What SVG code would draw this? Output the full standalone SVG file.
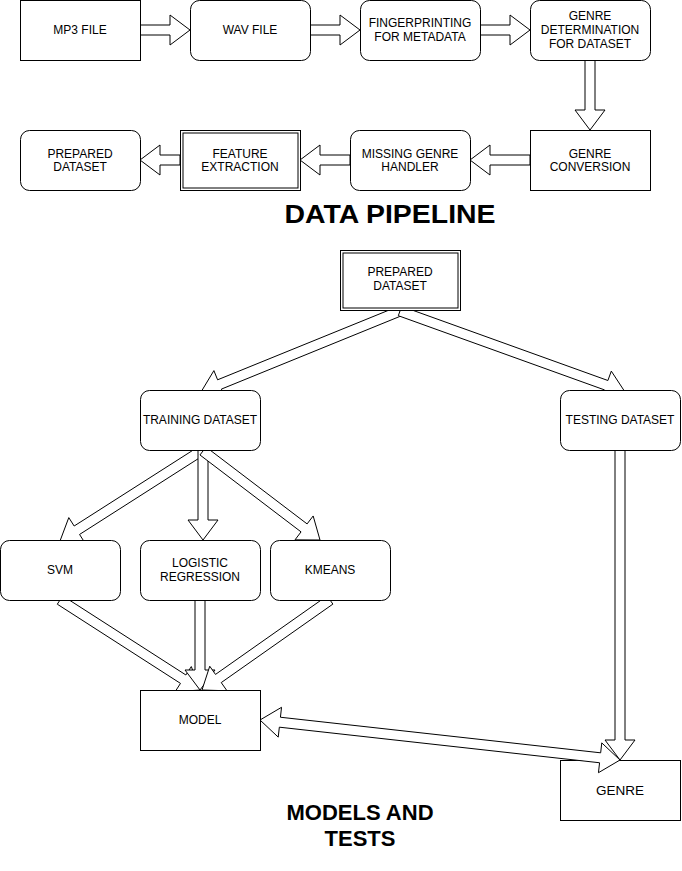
<svg xmlns="http://www.w3.org/2000/svg" width="682" height="871" viewBox="0 0 682 871">
<style>
.box{fill:#fff;stroke:#000;stroke-width:1}
.arr{fill:#fff;stroke:#000;stroke-width:1;stroke-linejoin:miter}
.t{font-family:"Liberation Sans",Arial,Helvetica,sans-serif;font-size:12px;fill:#000;text-anchor:middle}
.title{font-family:"Liberation Sans",Arial,Helvetica,sans-serif;font-weight:bold;fill:#000;text-anchor:middle}
</style>
<rect width="682" height="871" fill="#fff"/>

<g id="genre">
<rect class="box" x="560.5" y="760.5" width="120" height="60"/>
<text class="t" x="620" y="795" style="font-size:13.5px">GENRE</text>
</g>

<g id="connectors">
<path class="arr" d="M140,25 L170,25 L170,15 L190,30 L170,45 L170,35 L140,35 Z"/>
<path class="arr" d="M310,25 L340,25 L340,15 L360,30 L340,45 L340,35 L310,35 Z"/>
<path class="arr" d="M480,25 L510,25 L510,15 L530,30 L510,45 L510,35 L480,35 Z"/>
<path class="arr" d="M585,60 L585,110 L575,110 L590,130 L605,110 L595,110 L595,60 Z"/>
<path class="arr" d="M530,155 L490,155 L490,145 L470,160 L490,175 L490,165 L530,165 Z"/>
<path class="arr" d="M350,155 L320,155 L320,145 L300,160 L320,175 L320,165 L350,165 Z"/>
<path class="arr" d="M180,155 L160,155 L160,145 L140,160 L160,175 L160,165 L180,165 Z"/>
<path class="arr" d="M401.9,315.6 L221.4,389.1 L225.2,398.4 L201,392 L213.9,370.6 L217.6,379.8 L398.1,306.4 Z"/>
<path class="arr" d="M398.3,315.7 L604.5,389.9 L601.1,399.3 L625,392 L611.3,371.1 L607.9,380.5 L401.7,306.3 Z"/>
<path class="arr" d="M203.7,455.2 L79.55,534.46 L84.93,542.89 L60,541 L68.79,517.6 L74.17,526.03 L198.3,446.8 Z"/>
<path class="arr" d="M198,450 L198,520 L188,520 L203,540 L218,520 L208,520 L208,450 Z"/>
<path class="arr" d="M199.98,454.98 L301.06,531.88 L295,539.84 L320,540 L313.16,515.96 L307.1,523.92 L206,447 Z"/>
<path class="arr" d="M57.3,604.2 L180.48,683.39 L175.07,691.8 L200,690 L191.3,666.57 L185.89,674.98 L62.7,595.8 Z"/>
<path class="arr" d="M195,600 L195,670 L185,670 L200,690 L215,670 L205,670 L205,600 Z"/>
<path class="arr" d="M332.9,604.1 L221.24,682.59 L226.99,690.77 L202,690 L209.74,666.23 L215.49,674.41 L327.1,595.9 Z"/>
<path class="arr" d="M615,450 L615,740 L605,740 L620,760 L635,740 L625,740 L625,450 Z"/>
<path class="arr" d="M260,720 L281.54,707.3 L280.43,717.24 L600.67,752.82 L601.78,742.88 L620,760 L598.46,772.7 L599.57,762.76 L279.33,727.18 L278.22,737.12 Z"/>
</g>

<g id="mp3">
<rect class="box" x="20.5" y="0.5" width="120" height="60"/>
<text class="t" x="80" y="34">MP3 FILE</text>
</g>
<g id="wav">
<rect class="box" x="190.5" y="0.5" width="120" height="60" rx="9"/>
<text class="t" x="250" y="34">WAV FILE</text>
</g>
<g id="fingerprint">
<rect class="box" x="360.5" y="0.5" width="120" height="60" rx="9"/>
<text class="t" x="420" y="27">FINGERPRINTING</text>
<text class="t" x="420" y="41">FOR METADATA</text>
</g>
<g id="genre-determination">
<rect class="box" x="530.5" y="0.5" width="120" height="60" rx="9"/>
<text class="t" x="590" y="20">GENRE</text>
<text class="t" x="590" y="34">DETERMINATION</text>
<text class="t" x="590" y="48">FOR DATASET</text>
</g>
<g id="genre-conversion">
<rect class="box" x="530.5" y="130.5" width="120" height="60"/>
<text class="t" x="590" y="157.5">GENRE</text>
<text class="t" x="590" y="171">CONVERSION</text>
</g>
<g id="missing-genre">
<rect class="box" x="350.5" y="130.5" width="120" height="60" rx="9"/>
<text class="t" x="410" y="157.5">MISSING GENRE</text>
<text class="t" x="410" y="171">HANDLER</text>
</g>
<g id="feature-extraction">
<rect class="box" x="180.5" y="130.5" width="120" height="60"/>
<rect class="box" x="183" y="133" width="115" height="55"/>
<text class="t" x="240" y="157.5">FEATURE</text>
<text class="t" x="240" y="171">EXTRACTION</text>
</g>
<g id="prepared-dataset-1">
<rect class="box" x="20.5" y="130.5" width="120" height="60" rx="9"/>
<text class="t" x="80" y="157.5">PREPARED</text>
<text class="t" x="80" y="171">DATASET</text>
</g>

<g id="title-pipeline">
<text class="title" x="390" y="223" style="font-size:26px" textLength="211" lengthAdjust="spacingAndGlyphs">DATA PIPELINE</text>
</g>

<g id="prepared-dataset-2">
<rect class="box" x="340.5" y="250.5" width="120" height="60"/>
<rect class="box" x="343" y="253" width="115" height="55"/>
<text class="t" x="400" y="276">PREPARED</text>
<text class="t" x="400" y="290">DATASET</text>
</g>
<g id="training">
<rect class="box" x="140.5" y="390.5" width="120" height="60" rx="9"/>
<text class="t" x="200" y="424">TRAINING DATASET</text>
</g>
<g id="testing">
<rect class="box" x="560.5" y="390.5" width="120" height="60" rx="9"/>
<text class="t" x="620" y="424">TESTING DATASET</text>
</g>
<g id="svm">
<rect class="box" x="0.5" y="540.5" width="120" height="60" rx="9"/>
<text class="t" x="60" y="574">SVM</text>
</g>
<g id="logistic">
<rect class="box" x="140.5" y="540.5" width="120" height="60" rx="9"/>
<text class="t" x="200" y="567">LOGISTIC</text>
<text class="t" x="200" y="581">REGRESSION</text>
</g>
<g id="kmeans">
<rect class="box" x="270.5" y="540.5" width="120" height="60" rx="9"/>
<text class="t" x="330" y="574">KMEANS</text>
</g>
<g id="model">
<rect class="box" x="140.5" y="690.5" width="120" height="60"/>
<text class="t" x="200" y="724">MODEL</text>
</g>

<g id="title-models">
<text class="title" x="360" y="820" style="font-size:22px">MODELS AND</text>
<text class="title" x="360" y="846" style="font-size:22px">TESTS</text>
</g>
</svg>
